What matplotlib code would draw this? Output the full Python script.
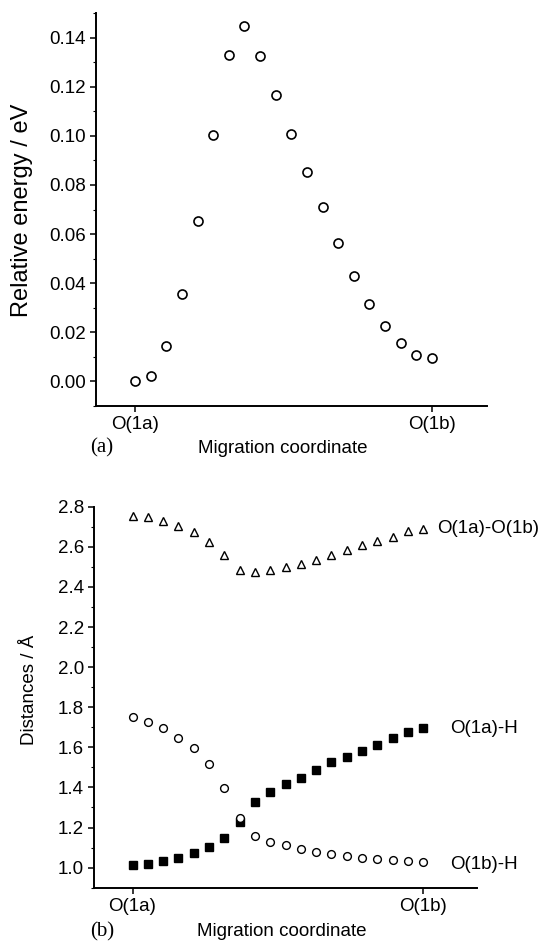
import numpy as np
import matplotlib
matplotlib.use("Agg")
import matplotlib.pyplot as plt
from matplotlib.ticker import MultipleLocator, FormatStrFormatter

plt.rcParams['font.family'] = ['Liberation Sans', 'DejaVu Sans']

# (a) relative energy along migration path
energy = [0.0003, 0.0023, 0.0146, 0.0356, 0.0652, 0.1003, 0.1328, 0.1449, 0.1325, 0.1167,
          0.1008, 0.0854, 0.0711, 0.0564, 0.0430, 0.0314, 0.0225, 0.0156, 0.0106, 0.0094]

# (b) distances
d_oo = [2.754, 2.747, 2.731, 2.704, 2.673, 2.626, 2.557, 2.486, 2.474, 2.482,
        2.497, 2.514, 2.535, 2.560, 2.585, 2.607, 2.628, 2.651, 2.679, 2.689]
d_o1a_h = [1.012, 1.020, 1.035, 1.048, 1.071, 1.101, 1.150, 1.230, 1.326, 1.378,
           1.415, 1.449, 1.485, 1.525, 1.551, 1.584, 1.614, 1.646, 1.678, 1.695]
d_o1b_h = [1.752, 1.727, 1.694, 1.648, 1.598, 1.519, 1.397, 1.247, 1.156, 1.126,
           1.111, 1.095, 1.080, 1.068, 1.057, 1.049, 1.043, 1.038, 1.032, 1.028]

ends = ["O(1a)", "O(1b)"]
steps = np.arange(len(energy))

W, H = 543, 944
fig = plt.figure(figsize=(W / 100, H / 100), dpi=100)
FS = 13.5

def style(ax):
    for s in ["top", "right"]:
        ax.spines[s].set_visible(False)
    for s in ["left", "bottom"]:
        ax.spines[s].set_linewidth(1.4)
    ax.tick_params(which="major", direction="out", length=4.5, width=1.1, labelsize=FS, pad=3)
    ax.tick_params(which="minor", direction="out", length=2.5, width=0.8)
    ax.set_xlim(-2.5, 22.5)
    ax.set_xticks([0, len(steps) - 1])
    ax.set_xticklabels(ends)

# top panel
ax1 = fig.add_axes([96 / W, 1 - 406 / H, 390.7 / W, 393 / H])
ax1.plot(steps, energy, 'o', mfc='white', mec='black', ms=6.5, mew=1.2, ls='none')
style(ax1)
ax1.set_ylim(-0.01, 0.15)
ax1.yaxis.set_major_locator(MultipleLocator(0.02))
ax1.yaxis.set_minor_locator(MultipleLocator(0.01))
ax1.yaxis.set_major_formatter(FormatStrFormatter('%.2f'))
fig.text(22 / W, 1 - 210 / H, "Relative energy / eV", fontsize=17, rotation=90,
         ha="center", va="center")
fig.text(283 / W, 1 - 448 / H, "Migration coordinate", fontsize=FS, ha="center", va="center")
fig.text(90 / W, 1 - 448 / H, "(a)", family="Liberation Serif", fontsize=15, va="center")

# bottom panel
ax2 = fig.add_axes([94.3 / W, 1 - 887.7 / H, 382.4 / W, 381 / H])
ax2.plot(steps, d_oo, '^', mfc='white', mec='black', ms=5.5, mew=1.0, ls='none')
ax2.plot(steps, d_o1a_h, 's', mfc='black', mec='black', ms=5.2, ls='none')
ax2.plot(steps, d_o1b_h, 'o', mfc='white', mec='black', ms=5.6, mew=1.0, ls='none')
style(ax2)
ax2.set_ylim(0.9, 2.8)
ax2.yaxis.set_major_locator(MultipleLocator(0.2))
ax2.yaxis.set_minor_locator(MultipleLocator(0.1))
ax2.yaxis.set_major_formatter(FormatStrFormatter('%.1f'))
fig.text(30 / W, 1 - 690 / H, "Distances / Å", fontsize=FS, rotation=90,
         ha="center", va="center")
fig.text(282 / W, 1 - 932 / H, "Migration coordinate", fontsize=FS, ha="center", va="center")
ax2.text(19.9, d_oo[-1], "O(1a)-O(1b)", fontsize=FS, va="center")
ax2.text(20.75, d_o1a_h[-1], "O(1a)-H", fontsize=FS, va="center")
ax2.text(20.75, d_o1b_h[-1] - 0.01, "O(1b)-H", fontsize=FS, va="center")
fig.text(90 / W, 1 - 932 / H, "(b)", family="Liberation Serif", fontsize=15, va="center")

fig.savefig("out.png", dpi=100)
